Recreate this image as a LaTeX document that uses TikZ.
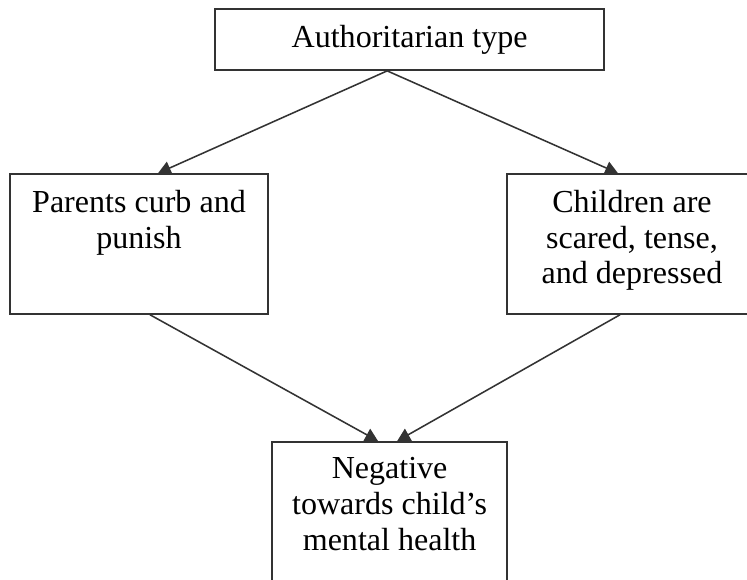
\documentclass[tikz,border=0pt]{standalone}
\usepackage{fontspec}
\setmainfont{Liberation Serif}
\usetikzlibrary{arrows.meta, positioning}
\definecolor{cline}{HTML}{333333}
\tikzset{
  every picture/.style={font=\fontsize{22.8pt}{25.5pt}\selectfont, line width=1.1pt},
  box/.style={draw=cline, inner sep=0pt, align=center},
  txt/.style={align=center, inner sep=0pt},
  arrow/.style={-{Triangle[length=3.2mm, width=3.4mm]}, draw=cline, line width=1.1pt},
}

\begin{document}
\begin{tikzpicture}
  \path[use as bounding box, clip] (0,0) rectangle (18.675,-14.5);
  \node[box, minimum width=9.725cm, minimum height=1.525cm] (auth) at (10.24,-0.99) {Authoritarian type};
  \node[box, minimum width=6.45cm, minimum height=3.5cm] (parents) at (3.475,-6.1) {};
  \node[box, minimum width=6.25cm, minimum height=3.5cm] (children) at (15.8,-6.1) {};
  \node[box, minimum width=5.875cm, minimum height=4.5cm, anchor=north] (neg) at (9.74,-11.025) {};
  \node[txt, below=0.4cm of parents.north] (parentstxt) {Parents curb and\\ punish};
  \node[txt, below=0.4cm of children.north] (childrentxt) {Children are\\ scared, tense,\\ and depressed};
  \node[txt, below=0.4cm of neg.north] (negtxt) {Negative\\ towards child’s\\ mental health};
  \draw[arrow] ([xshift=-0.56cm]auth.south) -- ([xshift=0.475cm]parents.north);
  \draw[arrow] ([xshift=-0.56cm]auth.south) -- ([xshift=-0.35cm]children.north);
  \draw[arrow] ([xshift=0.275cm]parents.south) -- ([xshift=-0.29cm]neg.north);
  \draw[arrow] ([xshift=-0.3cm]children.south) -- ([xshift=0.19cm]neg.north);
\end{tikzpicture}
\end{document}
